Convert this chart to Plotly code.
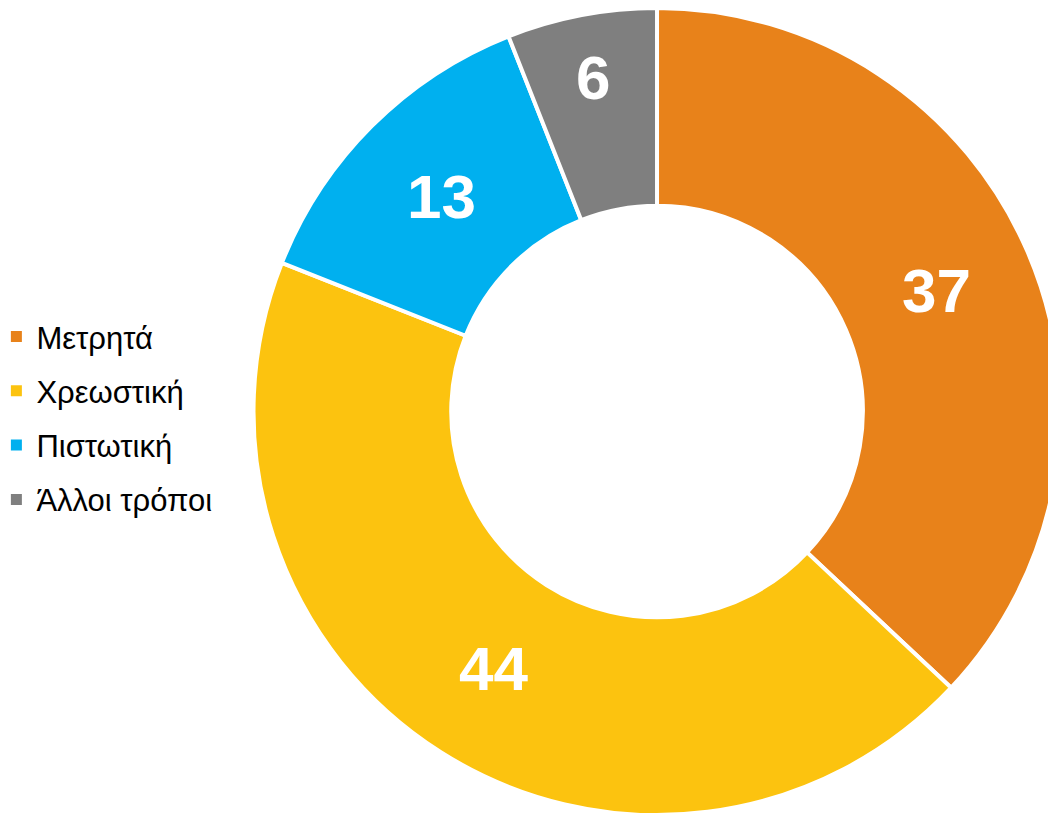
import plotly.graph_objects as go

labels = ["Μετρητά", "Χρεωστική", "Πιστωτική", "Άλλοι τρόποι"]
values = [37, 44, 13, 6]
colors = ["#E8821A", "#FCC30F", "#00B0EF", "#7F7F7F"]

fig = go.Figure()
fig.add_trace(go.Pie(
    labels=labels,
    values=values,
    hole=0.51,
    sort=False,
    direction="clockwise",
    rotation=0,
    marker=dict(colors=colors, line=dict(color="white", width=4)),
    textinfo="value",
    textposition="inside",
    insidetextorientation="horizontal",
    textfont=dict(family="Liberation Sans, Arial, sans-serif", size=62, color="white", weight="bold"),
    domain=dict(x=[0.2320, 0.9972], y=[0.0098, 1.0]),
    showlegend=False,
))

# legend entries (square markers) with custom spacing
for i, (lab, col) in enumerate(zip(labels, colors)):
    fig.add_trace(go.Scatter(
        x=[None], y=[None], mode="markers", name=lab,
        marker=dict(symbol="square", size=11, color=col),
        legendgroup="g%d" % i, showlegend=True,
    ))

fig.update_layout(
    width=1056, height=815,
    margin=dict(l=0, r=0, t=0, b=0, autoexpand=False),
    paper_bgcolor="white",
    plot_bgcolor="white",
    xaxis=dict(visible=False),
    yaxis=dict(visible=False),
    legend=dict(
        x=-0.011, xanchor="left", y=0.4965, yanchor="middle",
        font=dict(family="Liberation Sans, Arial, sans-serif", size=31, color="black"),
        itemwidth=30,
        tracegroupgap=11,
        bgcolor="rgba(0,0,0,0)",
    ),
)

fig.write_html("out.html")
